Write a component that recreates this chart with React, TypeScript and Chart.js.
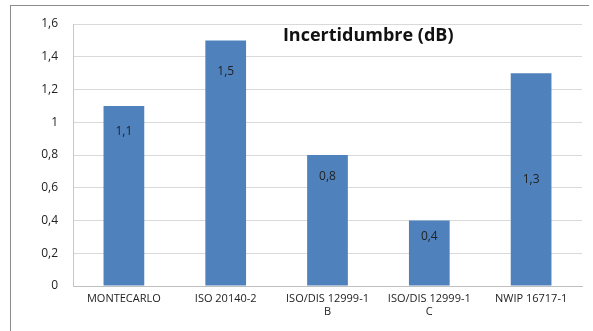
import React, { useEffect, useRef } from "react";
import { Chart, registerables } from "chart.js";

Chart.register(...registerables);

const categories: (string | string[])[] = [
  "MONTECARLO",
  "ISO 20140-2",
  ["ISO/DIS 12999-1", "B"],
  ["ISO/DIS 12999-1", "C"],
  "NWIP 16717-1",
];
const values = [1.1, 1.5, 0.8, 0.4, 1.3];
// vertical anchor of each data label, in data units (as placed in the original)
const labelAnchors = [0.94, 1.31, 0.67, 0.3, 0.65];
const yTicks = [0, 0.2, 0.4, 0.6, 0.8, 1, 1.2, 1.4, 1.6];
const titleText = "Incertidumbre (dB)";

const fmt = (v: number) => String(v).replace(".", ",");

export default function App() {
  const ref = useRef<HTMLCanvasElement | null>(null);
  useEffect(() => {
    if (!ref.current) return;
    const labelPlugin = {
      id: "labelsAndTitle",
      afterDatasetsDraw(chart: any) {
        const ctx = chart.ctx;
        const meta = chart.getDatasetMeta(0);
        const y = chart.scales.y;
        ctx.save();
        ctx.font = "12px 'Open Sans', sans-serif";
        ctx.fillStyle = "#222";
        ctx.textAlign = "center";
        ctx.textBaseline = "middle";
        meta.data.forEach((bar: any, i: number) => {
          ctx.fillText(fmt(values[i]), bar.x, y.getPixelForValue(labelAnchors[i]));
        });
        const ca = chart.chartArea;
        ctx.font = "bold 18px 'Open Sans', sans-serif";
        ctx.fillStyle = "#111";
        ctx.fillText(titleText, ca.left + (ca.right - ca.left) * 0.58, y.getPixelForValue(1.525));
        ctx.restore();
      },
    };
    const chart = new Chart(ref.current, {
      type: "bar",
      data: {
        labels: categories,
        datasets: [
          {
            data: values,
            backgroundColor: "#4F81BD",
            borderWidth: 0,
            barPercentage: 0.4,
            categoryPercentage: 1,
          },
        ],
      },
      options: {
        animation: false,
        responsive: false,
        maintainAspectRatio: false,
        layout: { padding: { top: 24, right: 11, left: 0, bottom: 0 } },
        plugins: { legend: { display: false }, tooltip: { enabled: false }, title: { display: false } },
        scales: {
          x: {
            grid: { display: false, drawTicks: false },
            border: { display: true, color: "#BFBFBF" },
            ticks: {
              color: "#222",
              font: { family: "'Open Sans', sans-serif", size: 11 },
              padding: 6,
              maxRotation: 0,
              autoSkip: false,
            },
            afterFit: (s: any) => {
              s.height = 45;
            },
          },
          y: {
            min: 0,
            max: 1.6,
            afterBuildTicks: (s: any) => {
              s.ticks = yTicks.map((v) => ({ value: v }));
            },
            grid: { color: "#D9D9D9", drawTicks: false },
            border: { display: true, color: "#C8C8C8" },
            ticks: {
              color: "#222",
              font: { family: "'Open Sans', sans-serif", size: 12 },
              padding: 15,
              callback: (v: any) => fmt(Number(v)),
            },
            afterFit: (s: any) => {
              s.width = 73;
            },
          },
        },
      },
      plugins: [labelPlugin],
    });
    return () => chart.destroy();
  }, []);
  return (
    <div style={{ position: "fixed", left: 0, top: 0, width: 593, height: 331, background: "#fff" }}>
      <div
        style={{
          position: "absolute",
          left: 10,
          top: 5,
          width: 578,
          height: 330,
          borderLeft: "1px solid #8c8c8c",
          borderTop: "1px solid #8c8c8c",
        }}
      />
      <canvas ref={ref} width={593} height={331} style={{ position: "absolute", left: 0, top: 0 }} />
    </div>
  );
}
